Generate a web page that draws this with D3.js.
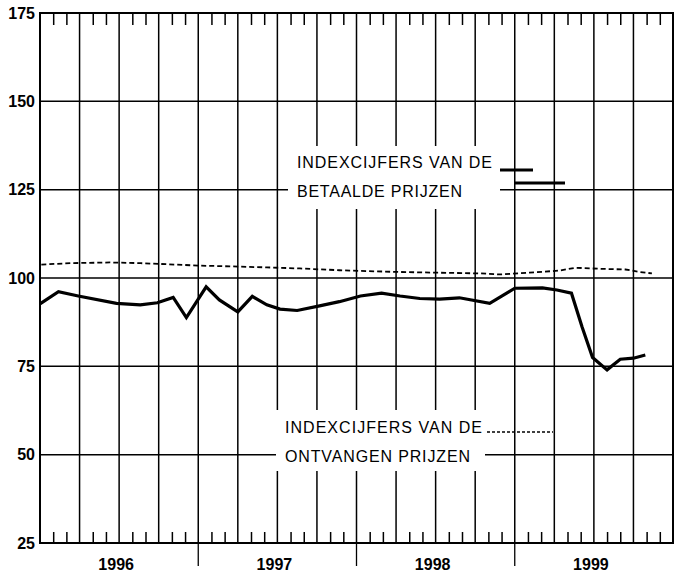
<!DOCTYPE html>
<html>
<head>
<meta charset="utf-8">
<script src="https://cdn.jsdelivr.net/npm/d3@7"></script>
<style>
  html, body { margin: 0; padding: 0; background: #fff; }
  svg { display: block; }
  text { font-family: "Liberation Sans", Arial, Helvetica, sans-serif; fill: #000; }
</style>
</head>
<body>
<svg id="chart" width="675" height="578"></svg>
<script>
// ---- data (months counted from January 1996) ----
const years = ["1996", "1997", "1998", "1999"];
const yTicks = [25, 50, 75, 100, 125, 150, 175];

// solid line
const solidMonths = [0, 1.4, 2.9, 5.8, 7.6, 8.9, 10.1, 11.1, 12.6, 13.6, 15.0, 16.1, 17.2, 18.2, 19.5, 21.2, 22.7, 24.3, 25.9, 27.3, 28.8, 30.3, 31.8, 34.1, 36.0, 38.1, 39.2, 40.3, 41.1, 41.9, 43.0, 44.0, 45.0, 45.9];
const solidValues = [92.7, 96.1, 94.9, 92.8, 92.4, 93.0, 94.5, 88.8, 97.5, 93.8, 90.4, 94.8, 92.4, 91.2, 90.8, 92.1, 93.3, 94.9, 95.7, 94.9, 94.2, 94.0, 94.4, 92.8, 97.1, 97.2, 96.6, 95.7, 86.2, 77.5, 74.0, 77.0, 77.3, 78.2];

// dashed line
const dashedMonths = [0.1, 2.3, 5.3, 7.6, 9.6, 12.1, 14.4, 17.2, 19.7, 22.7, 24.3, 27.3, 30.3, 33.4, 34.9, 37.1, 39.4, 40.6, 42.5, 44.4, 45.5, 46.4];
const dashedValues = [103.8, 104.2, 104.4, 104.2, 103.9, 103.5, 103.3, 103.0, 102.7, 102.2, 102.0, 101.7, 101.5, 101.3, 101.0, 101.5, 102.1, 102.9, 102.6, 102.4, 101.7, 101.3];

// legend texts
const legendTop = ["INDEXCIJFERS VAN DE", "BETAALDE PRIJZEN"];
const legendBottom = ["INDEXCIJFERS VAN DE", "ONTVANGEN PRIJZEN"];

// ---- layout ----
const L = 40, R = 673, T = 13, B = 543;
const svg = d3.select("#chart");

const x = d3.scaleLinear().domain([0, 48]).range([L, R]);
const y = d3.scaleLinear().domain([25, 175]).range([B, T]);

const allMonths = d3.range(0, 49);
const quarterMonths = allMonths.filter(m => m % 3 === 0 && m > 0 && m < 48);
const minorMonths = allMonths.filter(m => m % 3 !== 0);

// vertical quarter grid lines
svg.append("g").selectAll("line").data(quarterMonths).join("line")
  .attr("x1", d => x(d)).attr("x2", d => x(d))
  .attr("y1", T).attr("y2", B)
  .attr("stroke", "#000").attr("stroke-width", 1.5);

// horizontal grid lines
svg.append("g").selectAll("line").data(yTicks.filter(v => v > 25 && v < 175)).join("line")
  .attr("x1", L).attr("x2", R)
  .attr("y1", d => y(d)).attr("y2", d => y(d))
  .attr("stroke", "#000").attr("stroke-width", 1.5);

// month ticks at top (pointing down) and bottom (pointing up)
const topAxis = d3.axisBottom(x).tickValues(minorMonths).tickSize(12).tickFormat("");
svg.append("g").attr("transform", `translate(0,${T})`).call(topAxis)
  .call(g => g.select(".domain").remove())
  .call(g => g.selectAll("line").attr("stroke-width", 1.5));
const bottomAxis = d3.axisTop(x).tickValues(minorMonths).tickSize(11).tickFormat("");
svg.append("g").attr("transform", `translate(0,${B})`).call(bottomAxis)
  .call(g => g.select(".domain").remove())
  .call(g => g.selectAll("line").attr("stroke-width", 1.5));

// year separators below the axis
svg.append("g").selectAll("line").data([12, 24, 36]).join("line")
  .attr("x1", d => x(d)).attr("x2", d => x(d))
  .attr("y1", B).attr("y2", B + 23)
  .attr("stroke", "#000").attr("stroke-width", 1.3);

// year labels
svg.append("g").selectAll("text").data(years).join("text")
  .attr("x", (d, i) => x(i * 12 + 6) - 3)
  .attr("y", 570)
  .attr("text-anchor", "middle")
  .attr("font-size", 16).attr("font-weight", "bold")
  .text(d => d);

// y axis labels
const leftAxis = d3.axisLeft(y).tickValues(yTicks).tickSize(0).tickPadding(5).tickFormat(d3.format("d"));
svg.append("g").attr("transform", `translate(${L},0)`).call(leftAxis)
  .call(g => g.select(".domain").remove())
  .call(g => g.selectAll("text")
    .attr("font-size", 16).attr("font-weight", "bold")
    .attr("font-family", "'Liberation Sans', Arial, sans-serif").attr("fill", "#000"));

// frame
svg.append("rect")
  .attr("x", L).attr("y", T).attr("width", R - L).attr("height", B - T)
  .attr("fill", "none").attr("stroke", "#000").attr("stroke-width", 2);

// series
const solidData = solidMonths.map((m, i) => [m, solidValues[i]]);
const dashedData = dashedMonths.map((m, i) => [m, dashedValues[i]]);
const line = d3.line().x(d => x(d[0])).y(d => y(d[1]));

svg.append("path").datum(dashedData)
  .attr("d", line).attr("fill", "none")
  .attr("stroke", "#000").attr("stroke-width", 1.8)
  .attr("stroke-dasharray", "5,3");

svg.append("path").datum(solidData)
  .attr("d", line).attr("fill", "none")
  .attr("stroke", "#000").attr("stroke-width", 3.2)
  .attr("stroke-linejoin", "miter");

// legends
function legend(box, lines, textX, baselines, widths) {
  svg.append("rect")
    .attr("x", box[0]).attr("y", box[1]).attr("width", box[2]).attr("height", box[3])
    .attr("fill", "#fff");
  svg.append("g").selectAll("text").data(lines).join("text")
    .attr("x", textX).attr("y", (d, i) => baselines[i])
    .attr("font-size", 16)
    .attr("textLength", (d, i) => widths[i]).attr("lengthAdjust", "spacing")
    .text(d => d);
}
legend([288, 146, 212, 63], legendTop, 297, [168, 197], [195, 165]);
legend([276, 410, 209, 61], legendBottom, 285, [433, 462], [197, 185]);

// legend samples
svg.append("line").attr("x1", 500).attr("x2", 533).attr("y1", 170).attr("y2", 170)
  .attr("stroke", "#000").attr("stroke-width", 3);
svg.append("line").attr("x1", 515).attr("x2", 565).attr("y1", 183).attr("y2", 183)
  .attr("stroke", "#000").attr("stroke-width", 3);
svg.append("line").attr("x1", 487).attr("x2", 553).attr("y1", 432).attr("y2", 432)
  .attr("stroke", "#000").attr("stroke-width", 1.6).attr("stroke-dasharray", "3,2");
</script>
</body>
</html>
